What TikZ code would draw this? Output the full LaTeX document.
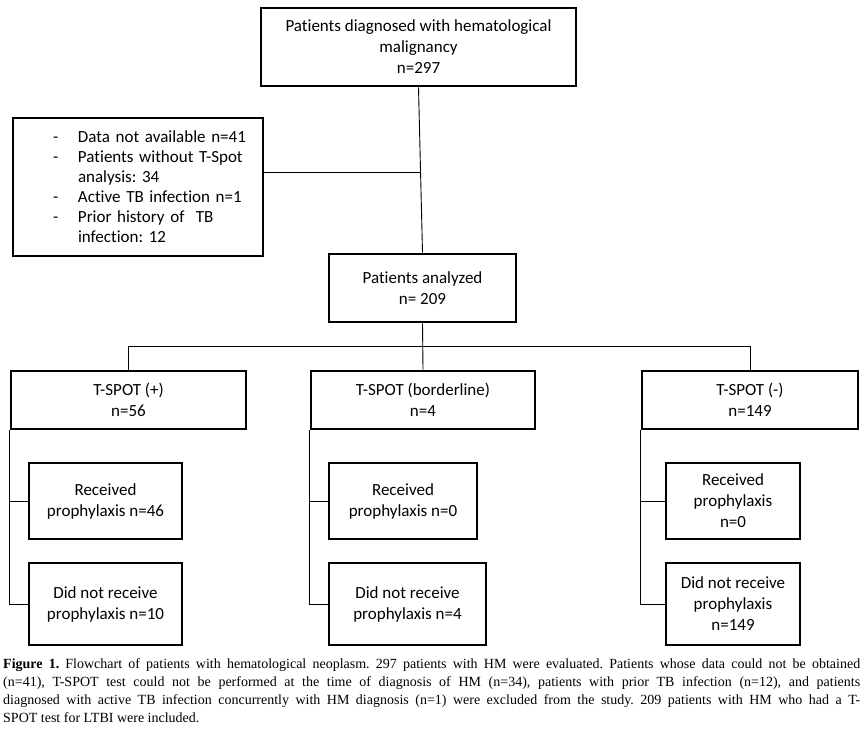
\documentclass[tikz,border=0pt]{standalone}
\usepackage{fontspec}
\setmainfont{Carlito}[Ligatures=NoCommon]
\newfontfamily\capfont{Liberation Serif}
\frenchspacing
\begin{document}
\begin{tikzpicture}[x=1pt,y=-1pt,
  box/.style={draw=black, line width=2.8pt, align=center, inner sep=2pt,
    font=\fontsize{17}{21}\selectfont},
  conn/.style={draw=black, line width=0.9pt}]
\useasboundingbox[fill=white] (0,0) rectangle (867,731);
% boxes
\node[box, minimum width=315pt, minimum height=78pt] (top) at (418.5,47)
  {Patients diagnosed with hematological\\malignancy\\n=297};
\node[box, minimum width=250pt, minimum height=138pt, text width=234pt, inner xsep=8pt, align=left,
  font=\fontsize{17}{20}\selectfont] (excl) at (138,187)
  {\hspace*{32pt}\makebox[25pt][l]{-}Data not available n=41\\
   \hspace*{32pt}\makebox[25pt][l]{-}Patients without T-Spot\\
   \hspace*{57pt}analysis: 34\\
   \hspace*{32pt}\makebox[25pt][l]{-}Active TB infection n=1\\
   \hspace*{32pt}\makebox[25pt][l]{-}Prior history of\ \ TB\\
   \hspace*{57pt}infection: 12};
\node[box, minimum width=187pt, minimum height=68pt] (an) at (422.5,288)
  {Patients analyzed\\n= 209};
\node[box, minimum width=235pt, minimum height=58pt] (pos) at (128.5,400)
  {T-SPOT (+)\\n=56};
\node[box, minimum width=224pt, minimum height=58pt] (bord) at (423,400)
  {T-SPOT (borderline)\\n=4};
\node[box, minimum width=216pt, minimum height=58pt] (neg) at (750,400)
  {T-SPOT (-)\\n=149};
\node[box, minimum width=153pt, minimum height=76pt] (rec1) at (105.5,501)
  {Received\\prophylaxis n=46};
\node[box, minimum width=153pt, minimum height=82pt] (did1) at (105.5,604)
  {Did not receive\\prophylaxis n=10};
\node[box, minimum width=148pt, minimum height=76pt] (rec2) at (403,501)
  {Received\\prophylaxis n=0};
\node[box, minimum width=157pt, minimum height=82pt] (did2) at (407.5,604)
  {Did not receive\\prophylaxis n=4};
\node[box, minimum width=134pt, minimum height=76pt] (rec3) at (733,501)
  {Received\\prophylaxis\\n=0};
\node[box, minimum width=134pt, minimum height=82pt] (did3) at (733,604)
  {Did not receive\\prophylaxis\\n=149};
% connectors
\coordinate (j) at (420,172);
\coordinate (bus) at (0,346);
\draw[conn] (top.south) -- (an.north);
\draw[conn] (excl.east |- j) -- (j);
\draw[conn] (an.south) -- (bord.north);
\draw[conn] (pos.north) -- (pos.north |- bus) -- (neg.north |- bus) -- (neg.north);
\draw[conn] (pos.south west) |- (did1.west);
\draw[conn] (rec1.west) -- (rec1.west -| pos.south west);
\draw[conn] (bord.south west) |- (did2.west);
\draw[conn] (rec2.west) -- (rec2.west -| bord.south west);
\draw[conn] (neg.south west) |- (did3.west);
\draw[conn] (rec3.west) -- (rec3.west -| neg.south west);
% caption
\node[anchor=north west, inner sep=0pt, text width=857pt, align=justify,
  font=\capfont\fontsize{14}{18}\selectfont] (cap) at (3,658)
  {\textbf{Figure 1.} Flowchart of patients with hematological neoplasm. 297 patients with HM were evaluated. Patients whose data could not be obtained\linebreak
  (n=41), T-SPOT test could not be performed at the time of diagnosis of HM (n=34), patients with prior TB infection (n=12), and patients\linebreak
  diagnosed with active TB infection concurrently with HM diagnosis (n=1) were excluded from the study. 209 patients with HM who had a T-\linebreak
  SPOT test for LTBI were included.};
\end{tikzpicture}
\end{document}
